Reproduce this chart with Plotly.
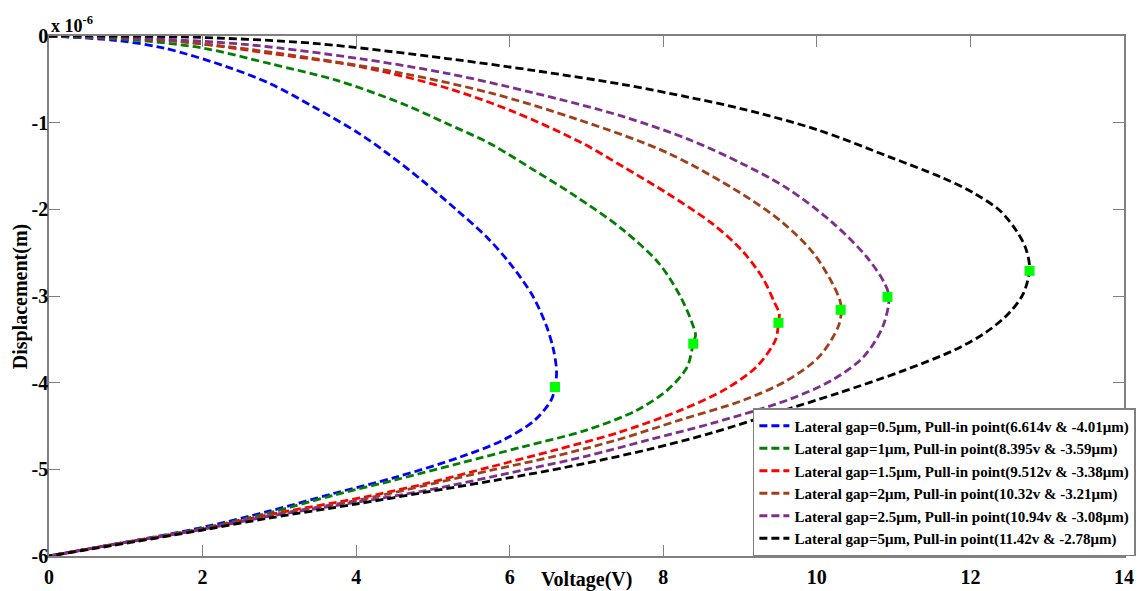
import plotly.graph_objects as go

# Series data (Voltage in V, Displacement in units of 1e-6 m)
blue_v = [0, 0.86, 1.5, 2.3, 2.88, 3.45, 4.03, 4.4, 4.85, 5.3, 5.7, 6.0, 6.3, 6.48, 6.57, 6.61, 6.59, 6.54, 6.33, 5.92, 5.35, 4.52, 3.7, 2.88, 2.0, 0.82, 0]
blue_d = [0, -0.05, -0.14, -0.35, -0.55, -0.82, -1.12, -1.35, -1.66, -2.0, -2.32, -2.62, -3.0, -3.35, -3.62, -3.87, -4.05, -4.2, -4.43, -4.66, -4.86, -5.09, -5.28, -5.48, -5.67, -5.87, -6.0]

green_v = [0, 1.15, 2.01, 2.88, 3.74, 4.6, 5.18, 5.74, 6.32, 6.86, 7.48, 7.94, 8.22, 8.37, 8.42, 8.39, 8.31, 8.06, 7.65, 6.99, 6.17, 5.35, 4.52, 3.7, 2.88, 2.0, 0.82, 0]
green_d = [0, -0.05, -0.14, -0.32, -0.51, -0.78, -1.01, -1.24, -1.55, -1.85, -2.24, -2.62, -3.0, -3.3, -3.45, -3.55, -3.82, -4.08, -4.32, -4.55, -4.74, -4.93, -5.12, -5.3, -5.5, -5.68, -5.87, -6.0]

red_v = [0, 0.9, 1.73, 2.88, 4.03, 5.18, 6.04, 6.91, 7.48, 8.06, 8.63, 9.02, 9.3, 9.45, 9.51, 9.5, 9.46, 9.21, 8.8, 8.22, 7.4, 6.58, 5.76, 4.93, 4.11, 2.88, 2.0, 0.82, 0]
red_d = [0, -0.02, -0.065, -0.2, -0.35, -0.6, -0.87, -1.22, -1.51, -1.82, -2.16, -2.47, -2.8, -3.08, -3.2, -3.31, -3.51, -3.82, -4.08, -4.32, -4.58, -4.78, -4.97, -5.16, -5.32, -5.52, -5.69, -5.87, -6.0]

brown_v = [0, 1.2, 2.3, 3.45, 4.6, 5.76, 6.91, 8.06, 9.02, 9.55, 9.95, 10.2, 10.3, 10.32, 10.28, 10.03, 9.62, 9.05, 8.22, 7.4, 6.58, 5.76, 4.93, 4.0, 2.88, 2.0, 0.82, 0]
brown_d = [0, -0.03, -0.12, -0.26, -0.43, -0.66, -0.97, -1.35, -1.82, -2.15, -2.5, -2.85, -3.05, -3.16, -3.35, -3.7, -3.97, -4.2, -4.43, -4.66, -4.85, -5.01, -5.18, -5.36, -5.53, -5.69, -5.87, -6.0]

purple_v = [0, 1.3, 2.59, 4.03, 5.18, 6.33, 7.48, 8.35, 9.02, 9.6, 10.2, 10.65, 10.88, 10.94, 10.86, 10.61, 10.2, 9.62, 8.63, 7.81, 6.99, 6.17, 4.93, 4.0, 2.88, 2.0, 0.82, 0]
purple_d = [0, -0.03, -0.1, -0.26, -0.43, -0.66, -0.93, -1.2, -1.47, -1.75, -2.15, -2.55, -2.85, -3.01, -3.35, -3.7, -3.97, -4.2, -4.47, -4.66, -4.85, -5.01, -5.24, -5.38, -5.54, -5.69, -5.87, -6.0]

black_v = [0, 1.73, 3.45, 5.18, 6.33, 7.48, 8.35, 9.02, 10.0, 10.96, 11.62, 12.04, 12.39, 12.6, 12.72, 12.77, 12.69, 12.5, 12.2, 11.8, 11.1, 10.28, 9.46, 8.63, 7.81, 6.99, 6.17, 4.93, 4.0, 2.88, 2.0, 0.82, 0]
black_d = [0, -0.01, -0.085, -0.26, -0.40, -0.56, -0.71, -0.84, -1.08, -1.40, -1.63, -1.81, -2.02, -2.25, -2.45, -2.68, -2.97, -3.2, -3.42, -3.62, -3.87, -4.12, -4.35, -4.58, -4.77, -4.93, -5.07, -5.26, -5.40, -5.56, -5.70, -5.88, -6.0]

pull_v = [6.59, 8.39, 9.5, 10.31, 10.92, 12.77]
pull_d = [-4.05, -3.55, -3.31, -3.16, -3.01, -2.71]

labels = [
    "Lateral gap=0.5μm, Pull-in point(6.614v & -4.01μm)",
    "Lateral gap=1μm, Pull-in point(8.395v & -3.59μm)",
    "Lateral gap=1.5μm, Pull-in point(9.512v & -3.38μm)",
    "Lateral gap=2μm, Pull-in point(10.32v & -3.21μm)",
    "Lateral gap=2.5μm, Pull-in point(10.94v & -3.08μm)",
    "Lateral gap=5μm, Pull-in point(11.42v & -2.78μm)",
]
colors = ["#0000ff", "#008000", "#ff0000", "#a0401a", "#7e2f8e", "#000000"]

x_ticks = [0, 2, 4, 6, 8, 10, 12, 14]
y_ticks = [0, -1, -2, -3, -4, -5, -6]
y_ticktext = ["0", "-1", "-2", "-3", "-4", "-5", "-6"]

series = [(blue_v, blue_d), (green_v, green_d), (red_v, red_d),
          (brown_v, brown_d), (purple_v, purple_d), (black_v, black_d)]

fig = go.Figure()
for (vx, dy), name, col in zip(series, labels, colors):
    fig.add_trace(go.Scatter(
        x=vx, y=dy, mode="lines", name=name,
        line=dict(color=col, width=2.8, dash="8px,4px", shape="spline", smoothing=0.9),
    ))

fig.add_trace(go.Scatter(
    x=pull_v, y=pull_d, mode="markers", showlegend=False,
    marker=dict(symbol="square", size=10, color="#00ff00", line=dict(width=0)),
))

font_family = "Liberation Serif"
axis_common = dict(
    showline=True, linecolor="#808080", linewidth=1.5, mirror="ticks",
    ticks="inside", ticklen=11, tickwidth=1.2, tickcolor="#808080",
    showgrid=False, zeroline=False, automargin=False,
    tickfont=dict(family=font_family, size=20, color="#000000", weight="bold"),
)

plot_w = 1148 - 49 - 13
plot_h = 591 - 36 - 35

fig.update_layout(
    width=1148, height=591,
    margin=dict(l=49, r=13, t=36, b=35),
    paper_bgcolor="white", plot_bgcolor="white",
    xaxis=dict(range=[0, 14], tickvals=x_ticks, ticklabelstandoff=2, **axis_common),
    yaxis=dict(range=[-6, 0], tickvals=y_ticks, ticktext=y_ticktext, ticklabelstandoff=-5, **axis_common),
    legend=dict(
        x=1 + 12 / plot_w, y=0, xanchor="right", yanchor="bottom",
        bordercolor="#808080", borderwidth=1.5, bgcolor="white",
        font=dict(family=font_family, size=15, color="#000000", weight="bold"),
        itemwidth=30, tracegroupgap=0,
    ),
    showlegend=True,
    annotations=[
        dict(text="Voltage(V)", x=0.5, y=-(579 - 556) / plot_h, xref="paper", yref="paper",
             xanchor="center", yanchor="middle", showarrow=False,
             font=dict(family=font_family, size=20, color="#000000", weight="bold")),
        dict(text="Displacement(m)", x=-(49 - 20) / plot_w, y=0.5, xref="paper", yref="paper",
             xanchor="center", yanchor="middle", textangle=-90, showarrow=False,
             font=dict(family=font_family, size=20, color="#000000", weight="bold")),
        dict(text="x 10<sup>-6</sup>", x=0, y=1.0, xref="paper", yref="paper",
             xanchor="left", yanchor="bottom", showarrow=False, yshift=-2,
             font=dict(family=font_family, size=18, color="#000000", weight="bold")),
    ],
)

fig.write_html("out.html")
